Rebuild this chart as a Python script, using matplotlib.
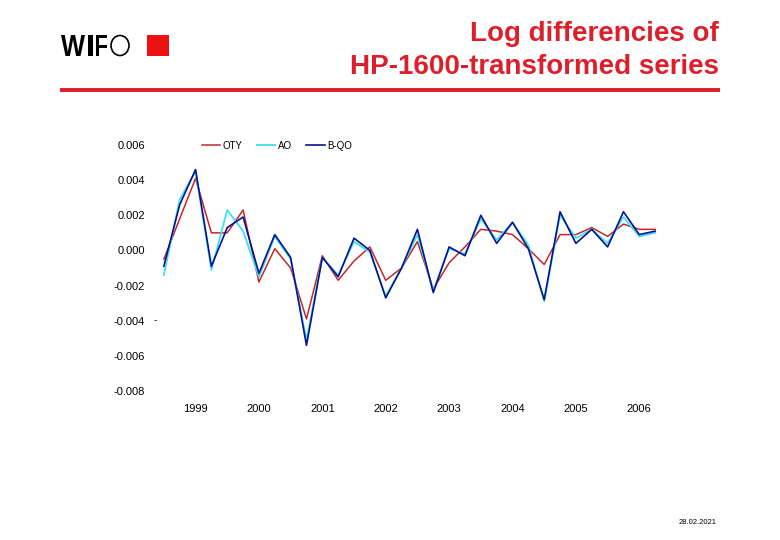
import matplotlib
matplotlib.use("Agg")
import matplotlib.pyplot as plt
from matplotlib.patches import Rectangle, Ellipse, PathPatch
from matplotlib.textpath import TextPath
from matplotlib.font_manager import FontProperties
from matplotlib.transforms import Affine2D

plt.rcParams['font.family'] = ['Liberation Sans', 'DejaVu Sans']
plt.rcParams['axes.unicode_minus'] = False

# ---------------- data ----------------
quarters = ['1998Q3', '1998Q4',
            '1999Q1', '1999Q2', '1999Q3', '1999Q4',
            '2000Q1', '2000Q2', '2000Q3', '2000Q4',
            '2001Q1', '2001Q2', '2001Q3', '2001Q4',
            '2002Q1', '2002Q2', '2002Q3', '2002Q4',
            '2003Q1', '2003Q2', '2003Q3', '2003Q4',
            '2004Q1', '2004Q2', '2004Q3', '2004Q4',
            '2005Q1', '2005Q2', '2005Q3', '2005Q4',
            '2006Q1', '2006Q2']

oty = [-0.0005, 0.0018, 0.0041, 0.0010, 0.0010, 0.0023, -0.0018, 0.0001,
       -0.0010, -0.0039, -0.0003, -0.0017, -0.0006, 0.0002, -0.0017, -0.0010,
       0.0005, -0.0022, -0.0007, 0.0002, 0.0012, 0.0011, 0.0009, 0.0001,
       -0.0008, 0.0009, 0.0009, 0.0013, 0.0008, 0.0015, 0.0012, 0.0012]

ao = [-0.0014, 0.0029, 0.0045, -0.0011, 0.0023, 0.0011, -0.0015, 0.0008,
      -0.0005, -0.0051, -0.0004, -0.0014, 0.0005, -0.0001, -0.0026, -0.0010,
      0.0009, -0.0023, 0.0001, -0.0002, 0.0018, 0.0006, 0.0016, 0.0003,
      -0.0029, 0.0020, 0.0007, 0.0012, 0.0004, 0.0019, 0.0008, 0.0010]

bqo = [-0.0009, 0.0026, 0.0046, -0.0009, 0.0013, 0.0019, -0.0013, 0.0009,
       -0.0004, -0.0054, -0.0004, -0.0015, 0.0007, 0.0000, -0.0027, -0.0010,
       0.0012, -0.0024, 0.0002, -0.0003, 0.0020, 0.0004, 0.0016, 0.0001,
       -0.0028, 0.0022, 0.0004, 0.0012, 0.0002, 0.0022, 0.0009, 0.0011]

series_names = ['OTY', 'AO', 'B-QO']
year_labels = ['1999', '2000', '2001', '2002', '2003', '2004', '2005', '2006']
y_ticks = [-0.008, -0.006, -0.004, -0.002, 0.000, 0.002, 0.004, 0.006]
y_tick_labels = ['-0.008', '-0.006', '-0.004', '-0.002', '0.000', '0.002', '0.004', '0.006']

title_lines = ['Log differencies of', 'HP-1600-transformed series']
date_text = '28.02.2021'

# ---------------- figure ----------------
W, H = 780, 540
fig = plt.figure(figsize=(W / 100, H / 100), dpi=100)
fig.patch.set_facecolor('white')

# background overlay in pixel coordinates
bg = fig.add_axes([0, 0, 1, 1])
bg.set_xlim(0, W)
bg.set_ylim(H, 0)
bg.axis('off')

TITLE_RED = '#dd1f2b'

# Logo: bold letters W, I, F fitted into boxes, ring "O", red square
fp = FontProperties(family='Liberation Sans', weight='bold')
for letter, (lx0, lx1) in zip('WIF', [(61, 85), (88, 93), (96, 107)]):
    tp = TextPath((0, 0), letter, size=1, prop=fp)
    ext = tp.get_extents()
    ly0, ly1 = 35, 56
    sx = (lx1 - lx0) / ext.width
    sy = (ly1 - ly0) / ext.height
    tr = Affine2D().translate(-ext.x0, -ext.y0).scale(sx, -sy).translate(lx0, ly1)
    bg.add_patch(PathPatch(tr.transform_path(tp), facecolor='black', edgecolor='none'))
bg.add_patch(Ellipse((120, 45.5), 18, 20, facecolor='none', edgecolor='black', lw=1.2))
bg.add_patch(Rectangle((147, 35), 22, 21, facecolor='#ee1111', edgecolor='none'))

# Title
bg.text(719, 41, title_lines[0], ha='right', va='baseline', fontsize=20,
        fontweight='bold', color=TITLE_RED)
bg.text(719, 74, title_lines[1], ha='right', va='baseline', fontsize=20,
        fontweight='bold', color=TITLE_RED)
bg.plot([60, 720], [89.5, 89.5], color=TITLE_RED, lw=2.8, solid_capstyle='butt')

# date
bg.text(717, 522, date_text, ha='right', va='center', fontsize=5.5, color='black')
# small artifact dash near -0.004 label
bg.text(155, 320, '-', ha='center', va='center', fontsize=7, color='black')

# ---------------- main chart ----------------
left_px, right_px, top_px, bottom_px = 148, 671, 145, 391
ax = fig.add_axes([left_px / W, (H - bottom_px) / H,
                   (right_px - left_px) / W, (bottom_px - top_px) / H])
ax.set_facecolor('none')

colors = ['#c4262e', '#40e0ec', '#06128e']
widths = [1.1, 1.3, 1.2]
for vals, name, c, lw in zip([oty, ao, bqo], series_names, colors, widths):
    ax.plot(quarters, vals, color=c, lw=lw, label=name)

ax.set_xlim(-1, len(quarters))
ax.set_ylim(-0.008, 0.006)
ax.set_yticks(y_ticks)
ax.set_yticklabels(y_tick_labels)
ax.set_xticks([quarters.index(y + 'Q1') for y in year_labels])
ax.set_xticklabels(year_labels)
ax.tick_params(axis='both', length=0, labelsize=8, colors='black')
ax.tick_params(axis='y', pad=2)
ax.tick_params(axis='x', pad=9)
for s in ax.spines.values():
    s.set_visible(False)

leg = ax.legend(loc='center left', bbox_to_anchor=(0.1027, 0.997), ncol=3,
                frameon=False, fontsize=7, handlelength=1.9, handletextpad=0.28,
                columnspacing=1.44, borderpad=0, borderaxespad=0)

fig.savefig('out.png', dpi=100, facecolor='white')
